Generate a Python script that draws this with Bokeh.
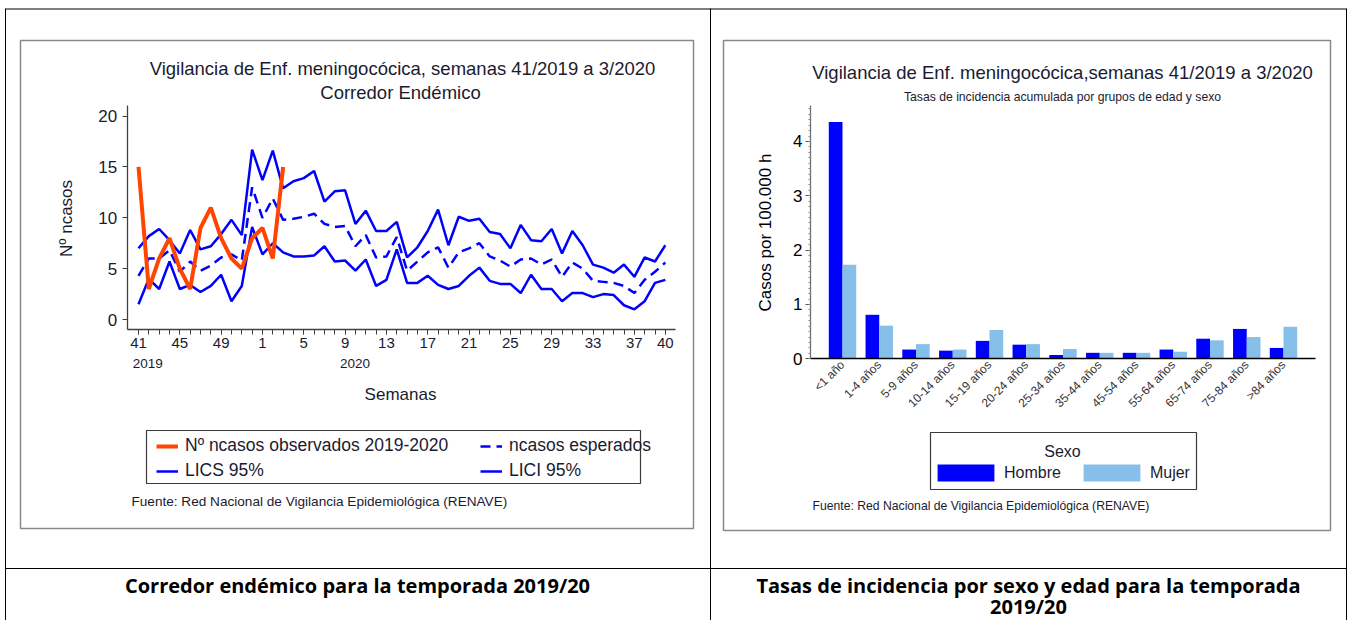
import numpy as np
from math import pi
from bokeh.plotting import figure
from bokeh.models import Range1d, LinearAxis, FixedTicker, Legend, LegendItem
from bokeh.core.properties import value
from bokeh.embed import file_html
from bokeh.resources import INLINE

# ---------------- data ----------------
weeks = ["41", "42", "43", "44", "45", "46", "47", "48", "49", "50", "51", "52",
         "1", "2", "3", "4", "5", "6", "7", "8", "9", "10", "11", "12", "13", "14",
         "15", "16", "17", "18", "19", "20", "21", "22", "23", "24", "25", "26", "27",
         "28", "29", "30", "31", "32", "33", "34", "35", "36", "37", "38", "39", "40"]
observed = [15, 3, 6, 8, 5, 3, 9, 11, 8, 6, 5, 8, 9, 6, 15]
expected = [4.3, 6.0, 6.0, 6.8, 4.7, 5.7, 4.8, 5.3, 6.1, 6.4,
            5.8, 13.0, 10.0, 11.9, 9.8, 9.9, 10.1, 10.4, 9.4, 9.1,
            9.2, 7.2, 8.3, 6.1, 6.2, 8.1, 4.8, 5.7, 6.6, 7.1,
            5.1, 6.6, 7.0, 7.5, 6.2, 5.8, 5.2, 5.9, 6.0, 5.4,
            5.9, 4.2, 5.6, 5.0, 3.8, 3.7, 3.6, 3.3, 2.6, 3.9,
            4.7, 5.6]
lics = [7.0, 8.2, 8.9, 7.8, 6.5, 8.8, 6.9, 7.2, 8.4, 9.8,
        8.3, 16.7, 13.7, 16.6, 12.9, 13.6, 13.9, 14.6, 11.6, 12.6,
        12.7, 9.4, 10.7, 8.7, 8.7, 9.6, 6.1, 7.1, 8.7, 10.8,
        7.3, 10.1, 9.7, 9.9, 8.6, 8.4, 7.0, 9.3, 7.8, 7.7,
        8.9, 6.5, 8.7, 7.3, 5.4, 5.1, 4.6, 5.4, 4.2, 6.1,
        5.7, 7.3]
lici = [1.5, 4.0, 3.0, 5.7, 3.0, 3.4, 2.7, 3.3, 4.4, 1.8,
        3.3, 9.1, 6.4, 7.5, 6.6, 6.2, 6.2, 6.3, 7.2, 5.7,
        5.8, 4.8, 5.9, 3.3, 3.9, 6.9, 3.6, 3.6, 4.3, 3.4,
        3.0, 3.3, 4.3, 5.1, 3.8, 3.5, 3.5, 2.6, 4.4, 3.0,
        3.0, 1.8, 2.6, 2.6, 2.2, 2.5, 2.4, 1.4, 1.0, 1.8,
        3.6, 3.9]
y_ticks_left = [0, 5, 10, 15, 20]

age_groups = ["<1 año", "1-4 años", "5-9 años", "10-14 años", "15-19 años", "20-24 años",
              "25-34 años", "35-44 años", "45-54 años", "55-64 años", "65-74 años",
              "75-84 años", ">84 años"]
hombre = [4.36, 0.81, 0.17, 0.15, 0.33, 0.26, 0.07, 0.11, 0.11, 0.17, 0.37, 0.55, 0.20]
mujer = [1.73, 0.61, 0.27, 0.17, 0.53, 0.27, 0.18, 0.11, 0.11, 0.13, 0.34, 0.40, 0.59]
y_ticks_right = [0, 1, 2, 3, 4]

# ---------------- canvas (pixel frame = picture coordinates) ----------------
W, H = 1351, 620
p = figure(width=W, height=H, x_range=Range1d(0, W), y_range=Range1d(H, 0),
           x_axis_type=None, y_axis_type=None, output_backend="svg",
           toolbar_location=None, min_border=0, outline_line_color=None,
           background_fill_color="white", border_fill_color="white")

FONT = value("Liberation Sans")
TXT = "#1b1b2f"

# left chart scales (pixel anchors)
LX0, LDX = 138.0, 10.33
LY0, LDY = 319.0, 10.17
p.extra_x_ranges["wk"] = Range1d((0 - LX0) / LDX, (W - LX0) / LDX)
p.extra_y_ranges["cases"] = Range1d((LY0 - H) / LDY, (LY0 - 0) / LDY)
# right chart scales
RX0, RDX = 842.0, 36.75
RY0, RDY = 358.3, 54.33
p.extra_x_ranges["cat"] = Range1d((0 - RX0) / RDX, (W - RX0) / RDX)
p.extra_y_ranges["rate"] = Range1d((RY0 - H) / RDY, (RY0 - 0) / RDY)


def txt(x, y, s, size, align="center", baseline="middle", bold=False, color=TXT,
        angle=0.0, font=FONT, **kw):
    p.text(x=[x], y=[y], text=[s], text_font=font, text_font_size=size,
           text_align=align, text_baseline=baseline,
           text_font_style="bold" if bold else "normal", text_color=color,
           angle=angle, **kw)


# ---------------- table + boxes ----------------
p.segment(x0=[5, 5, 710, 5, 1346], y0=[8.5, 568, 8, 8, 8], x1=[1346, 1346, 710, 5, 1346],
          y1=[8.5, 568, 620, 620, 620], line_color="black", line_width=1)
p.quad(left=[20, 723], right=[693, 1330], top=[40, 40], bottom=[528, 530],
       fill_color=None, line_color="#8a8a8a", line_width=1.5)

# captions
CAP = value("Open Sans")
txt(357, 585, "Corredor endémico para la temporada 2019/20", "20px", bold=True,
    color="black", font=CAP)
txt(1028, 585, "Tasas de incidencia por sexo y edad para la temporada", "20px",
    bold=True, color="black", font=CAP)
txt(1028, 606, "2019/20", "20px", bold=True, color="black", font=CAP)

# ---------------- left chart ----------------
idx = list(range(len(weeks)))
kwL = dict(x_range_name="wk", y_range_name="cases")
r_lics = p.line(idx, lics, line_color="#0000ff", line_width=2.5, **kwL)
r_lici = p.line(idx, lici, line_color="#0000ff", line_width=2.5, **kwL)
r_esp = p.line(idx, expected, line_color="#0000ff", line_width=2.5, line_dash="10 6", **kwL)
r_obs = p.line(idx[:len(observed)], observed, line_color="#ff4500", line_width=4, **kwL)

major_pos = [0, 4, 8, 12, 16, 20, 24, 28, 32, 36, 40, 44, 48, 51]
xl = LinearAxis(x_range_name="wk", y_range_name="cases",
                fixed_location=(LY0 - 329.3) / LDY,
                bounds=((126.7 - LX0) / LDX, (675 - LX0) / LDX),
                ticker=FixedTicker(ticks=major_pos, minor_ticks=idx),
                major_label_overrides={i: weeks[i] for i in major_pos})
xl.axis_line_color = "#404040"
xl.axis_line_width = 1.3
xl.major_tick_out = 5
xl.major_tick_in = 0
xl.minor_tick_out = 5
xl.minor_tick_in = 0
xl.major_tick_line_color = "#404040"
xl.minor_tick_line_color = "#404040"
xl.major_label_text_font = "Liberation Sans"
xl.major_label_text_font_size = "15px"
xl.major_label_text_color = TXT
xl.major_label_standoff = 3
p.add_layout(xl, "below")

yl = LinearAxis(x_range_name="wk", y_range_name="cases",
                fixed_location=(126.7 - LX0) / LDX,
                bounds=((LY0 - 329.3) / LDY, (LY0 - 105) / LDY),
                ticker=FixedTicker(ticks=y_ticks_left, minor_ticks=[]))
yl.axis_line_color = "#404040"
yl.axis_line_width = 1.3
yl.major_tick_out = 5
yl.major_tick_in = 0
yl.major_tick_line_color = "#404040"
yl.major_label_text_font = "Liberation Sans"
yl.major_label_text_font_size = "17px"
yl.major_label_text_color = TXT
yl.major_label_standoff = 5
yl.major_label_orientation = "horizontal"
p.add_layout(yl, "left")

txt(402, 68, "Vigilancia de Enf. meningocócica, semanas 41/2019 a 3/2020", "18.5px")
txt(400, 92, "Corredor Endémico", "18.5px")
txt(400, 394, "Semanas", "17px")
txt(66, 218, "Nº ncasos", "17px", angle=pi / 2)
txt(-0.55, (LY0 - 363) / LDY, "2019", "13.5px", align="left", **kwL)
txt(19.5, (LY0 - 363) / LDY, "2020", "13.5px", align="left", **kwL)

# legend (box + two columns)
p.quad(left=[146], right=[640], top=[430], bottom=[483], fill_color="white",
       line_color="#3a3a3a", line_width=1.2)
lg_common = dict(glyph_width=22, glyph_height=20, label_height=20, label_standoff=7,
                 spacing=4, padding=0, margin=0, border_line_color=None,
                 background_fill_alpha=0, label_text_font="Liberation Sans",
                 label_text_font_size="17.5px", label_text_color=TXT)
lgA = Legend(items=[LegendItem(label="Nº ncasos observados 2019-2020", renderers=[r_obs]),
                    LegendItem(label="LICS 95%", renderers=[r_lics])],
             location=(156, H - 481), **lg_common)
lgB = Legend(items=[LegendItem(label="ncasos esperados", renderers=[r_esp]),
                    LegendItem(label="LICI 95%", renderers=[r_lici])],
             location=(480, H - 481), **lg_common)
p.add_layout(lgA, "center")
p.add_layout(lgB, "center")
txt(131, 501, "Fuente: Red Nacional de Vigilancia Epidemiológica (RENAVE)", "13.6px",
    align="left")

# ---------------- right chart ----------------
cidx = list(range(len(age_groups)))
kwR = dict(x_range_name="cat", y_range_name="rate")
bw = 0.373
r_h = p.vbar(x=[c - bw / 2 for c in cidx], top=hombre, bottom=0, width=bw,
             fill_color="#0000ff", line_color=None, **kwR)
r_m = p.vbar(x=[c + bw / 2 for c in cidx], top=mujer, bottom=0, width=bw,
             fill_color="#86bfea", line_color=None, **kwR)

xr = LinearAxis(x_range_name="cat", y_range_name="rate", fixed_location=0,
                bounds=((810 - RX0) / RDX, (1315 - RX0) / RDX),
                ticker=FixedTicker(ticks=cidx, minor_ticks=[]),
                major_label_overrides={i: age_groups[i] for i in cidx})
xr.axis_line_color = "black"
xr.axis_line_width = 1.5
xr.major_tick_out = 0
xr.major_tick_in = 0
xr.major_label_orientation = pi / 4
xr.major_label_text_font = "Liberation Sans"
xr.major_label_text_font_size = "12px"
xr.major_label_text_color = "#333333"
xr.major_label_standoff = 4
p.add_layout(xr, "below")

yr = LinearAxis(x_range_name="cat", y_range_name="rate",
                fixed_location=(810 - RX0) / RDX,
                bounds=(0, (RY0 - 105) / RDY),
                ticker=FixedTicker(ticks=y_ticks_right,
                                   minor_ticks=[k / 10 for k in range(47)]))
yr.axis_line_color = "#707070"
yr.axis_line_width = 1.3
yr.major_tick_out = 5
yr.major_tick_in = 0
yr.minor_tick_out = 2
yr.minor_tick_in = 0
yr.major_tick_line_color = "#555555"
yr.minor_tick_line_color = "#888888"
yr.major_label_text_font = "Liberation Sans"
yr.major_label_text_font_size = "17px"
yr.major_label_text_color = "black"
yr.major_label_standoff = 3
yr.major_label_orientation = "horizontal"
p.add_layout(yr, "left")

txt(1062, 72, "Vigilancia de Enf. meningocócica,semanas 41/2019 a 3/2020", "18.5px")
txt(1062, 96, "Tasas de incidencia acumulada por grupos de edad y sexo", "12.2px")
txt(765, 232, "Casos por 100.000 h", "17px", angle=pi / 2, color="black")

p.quad(left=[930], right=[1196], top=[432], bottom=[489], fill_color="white",
       line_color="#3a3a3a", line_width=1.2)
txt(1062, 451, "Sexo", "16px")
lgR = Legend(items=[LegendItem(label="Hombre", renderers=[r_h]),
                    LegendItem(label="Mujer", renderers=[r_m])],
             orientation="horizontal", glyph_width=71, glyph_height=21,
             label_height=21, label_standoff=3, spacing=15, padding=0, margin=0,
             border_line_color=None, background_fill_alpha=0,
             label_text_font="Liberation Sans", label_text_font_size="16px",
             label_text_color=TXT, location=(930, H - 483))
p.add_layout(lgR, "center")
txt(812, 505, "Fuente: Red Nacional de Vigilancia Epidemiológica (RENAVE)", "12.2px",
    align="left")

open("out.html", "w").write(file_html(p, INLINE))
